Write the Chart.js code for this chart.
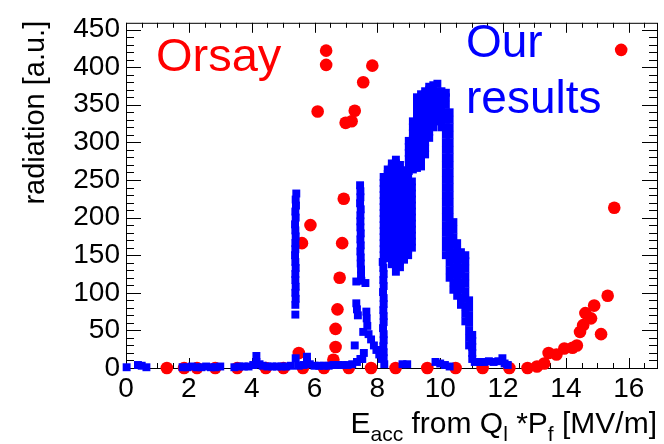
<!DOCTYPE html>
<html lang="en">
<head>
<meta charset="UTF-8">
<title>radiation vs Eacc</title>
<script src="https://cdn.jsdelivr.net/npm/chart.js"></script>
<style>
  body { margin: 0; background: #fff; }
</style>
</head>
<body>
<canvas id="myChart" width="664" height="444"></canvas>
<script>
// axis ranges and tick labels
const xMin = 0, xMax = 16.9, xStep = 2;
const yMin = 0, yMax = 459, yStep = 50;

// Orsay points [E_acc, radiation]
const orsay = [
  [1.30, 0], [1.85, 0], [2.26, 0], [2.84, 0], [3.54, 0], [4.45, 0], [5.01, 0],
  [5.50, 20], [5.63, 0], [5.60, 166], [5.87, 190], [6.10, 341], [6.30, 0],
  [6.37, 422], [6.37, 403], [6.60, 11], [6.67, 28], [6.67, 52], [6.73, 78],
  [6.80, 120], [6.88, 166], [6.93, 225], [6.99, 326], [7.18, 328], [7.09, 0],
  [7.28, 342], [7.55, 380], [7.80, 0], [7.84, 402], [8.58, 0], [9.59, 0],
  [10.49, 0], [11.35, 0], [12.20, 0], [12.78, 0], [13.08, 2], [13.31, 6],
  [13.45, 20], [13.70, 18], [13.95, 26], [14.21, 27], [14.35, 30], [14.45, 48],
  [14.55, 57], [14.62, 73], [14.80, 66], [14.90, 83], [15.12, 45], [15.33, 96],
  [15.54, 213], [15.76, 423]
];

// Our results: near-zero baseline
const ourBaseline = [
  [0.02, 1], [0.38, 4], [0.50, 3], [0.65, 1],
  [1.80, 1], [1.95, 1], [2.10, 2], [2.25, 1], [2.40, 1], [2.55, 2], [2.70, 1], [2.85, 1], [3.00, 2],
  [3.45, 1], [3.60, 2], [3.75, 2], [3.90, 2], [4.05, 4], [4.15, 8], [4.15, 16], [4.25, 5],
  [4.35, 3], [4.50, 2], [4.65, 2], [4.80, 2], [4.95, 2], [5.10, 2], [5.25, 3], [5.40, 13],
  [5.50, 3], [5.65, 4], [5.76, 8], [5.76, 15], [5.85, 5], [6.00, 3], [6.15, 3], [6.30, 3],
  [6.45, 3], [6.60, 4], [6.75, 4], [6.90, 4], [7.05, 4], [7.20, 5], [7.35, 8], [7.46, 12],
  [8.80, 5], [8.95, 5], [9.85, 8], [10.00, 6], [10.15, 4], [10.30, 2],
  [11.10, 8], [11.25, 8], [11.40, 8], [11.55, 9], [11.70, 8], [11.85, 9], [11.98, 13],
  [12.05, 6], [12.15, 4]
];

// Our results: narrow spike near 5.4 MV/m
const ourSpike54 = [
  [5.39, 71], [5.39, 84], [5.40, 92], [5.39, 100], [5.40, 108], [5.39, 117], [5.39, 125],
  [5.40, 133], [5.39, 141], [5.38, 150], [5.39, 158], [5.39, 166], [5.40, 175], [5.39, 183],
  [5.38, 191], [5.40, 200], [5.39, 208], [5.41, 216], [5.40, 224], [5.42, 232]
];

// Our results: spike near 7.5 MV/m and the cluster under it
const ourSpike75 = [
  [7.45, 243], [7.46, 235], [7.46, 227], [7.45, 219], [7.47, 211], [7.46, 203], [7.46, 195],
  [7.46, 187], [7.47, 179], [7.46, 171], [7.47, 163], [7.46, 155], [7.47, 147], [7.47, 139],
  [7.48, 131], [7.48, 123], [7.49, 116], [7.33, 115], [7.62, 113],
  [7.33, 86], [7.35, 78], [7.38, 70], [7.65, 75], [7.66, 66], [7.68, 56], [7.55, 48],
  [7.28, 30], [7.72, 45], [7.80, 38], [7.89, 30], [7.97, 24], [8.06, 18], [8.14, 12],
  [7.57, 20], [7.52, 12]
];

// Our results: column at 8.2 MV/m under the main bump
const ourColumn82 = [
  [8.22, 5], [8.20, 13], [8.20, 21], [8.19, 29], [8.20, 37], [8.20, 45], [8.18, 53],
  [8.20, 61], [8.20, 69], [8.19, 77], [8.20, 85], [8.20, 93], [8.18, 101], [8.20, 109],
  [8.19, 117], [8.20, 125], [8.19, 133], [8.17, 141]
];

// Our results: lower lobe of the main bump (x, list of y)
const lowLobeX = [8.20, 8.33, 8.46, 8.59, 8.72, 8.85, 8.98, 9.10];
const lowLobeY = [
  [150, 158, 166, 174, 182, 190, 198, 206, 214, 222, 230, 238, 246, 254],
  [146, 154, 162, 170, 178, 186, 194, 202, 210, 218, 226, 234, 242, 250, 258, 264],
  [138, 146, 154, 162, 170, 178, 186, 194, 202, 210, 218, 226, 234, 242, 250, 258, 266, 272],
  [128, 136, 144, 152, 160, 168, 176, 184, 192, 200, 208, 216, 224, 232, 240, 248, 256, 264, 272, 277],
  [134, 142, 150, 158, 166, 174, 182, 190, 198, 206, 214, 222, 230, 238, 246, 254, 262, 270],
  [144, 152, 160, 168, 176, 184, 192, 200, 208, 216, 224, 232, 240, 248, 256, 263],
  [150, 158, 166, 174, 182, 190, 198, 206, 214, 222, 230, 238, 246, 254],
  [160, 168, 176, 184, 192, 200, 208, 216, 224, 232, 240, 248]
];

// Our results: upper lobe of the main bump
const highLobeX = [9.00, 9.13, 9.26, 9.39, 9.52, 9.65, 9.78, 9.91, 10.04];
const highLobeY = [
  [262, 270, 278, 286, 294, 302],
  [264, 272, 280, 288, 296, 304, 312, 320, 328],
  [266, 274, 282, 290, 298, 306, 314, 322, 330, 338, 346, 354, 360],
  [268, 276, 284, 292, 300, 308, 316, 324, 332, 340, 348, 356, 364],
  [284, 292, 300, 308, 316, 324, 332, 340, 348, 356, 364, 368],
  [306, 314, 322, 330, 338, 346, 354, 362, 370, 374],
  [320, 328, 336, 344, 352, 360, 368, 376],
  [328, 336, 344, 352, 360, 368, 378],
  [320, 328, 336, 344, 352, 360, 368]
];

// Our results: falling edge 10.2 - 11 MV/m
const fallX = [10.18, 10.30, 10.42, 10.54, 10.66, 10.80, 10.92, 11.02];
const fallY = [
  [150, 160, 170, 180, 190, 200, 210, 220, 230, 240, 250, 260, 270, 280, 290, 300, 310, 320, 330, 340, 350, 360, 366],
  [120, 130, 140, 150, 160, 170, 180, 190, 200, 210, 220, 230, 240, 250, 260, 270, 280, 290, 300, 310, 320, 330, 340],
  [104, 114, 124, 134, 144, 154, 164, 174, 184, 194],
  [96, 106, 116, 126, 136, 146, 156, 166],
  [84, 94, 104, 114, 124, 134, 144, 154],
  [62, 72, 82, 92, 102, 112, 122, 132, 142, 150],
  [30, 40, 50, 60, 70, 80, 90],
  [12, 20, 28, 36, 44]
];

const FONT = "'Liberation Sans', Arial, Helvetica, sans-serif";

function pairs(list) {
  return list.map(p => ({ x: p[0], y: p[1] }));
}
function columns(xs, ys) {
  const out = [];
  xs.forEach((x, i) => ys[i].forEach(y => out.push({ x: x, y: y })));
  return out;
}

const ourPoints = [].concat(
  pairs(ourBaseline), pairs(ourSpike54), pairs(ourSpike75), pairs(ourColumn82),
  columns(lowLobeX, lowLobeY), columns(highLobeX, highLobeY), columns(fallX, fallY)
);

// ROOT style frame, inner ticks and texts
const framePlugin = {
  id: 'frame',
  beforeDatasetsDraw(chart) {
    const { ctx, chartArea: a, scales } = chart;
    ctx.save();
    ctx.strokeStyle = '#000';
    ctx.lineWidth = 1;
    ctx.strokeRect(a.left + 0.5, a.top + 0.5, a.right - a.left, a.bottom - a.top);
    ctx.beginPath();
    for (let i = 0; i * 0.5 <= xMax; i++) {
      const px = Math.round(scales.x.getPixelForValue(i * 0.5)) + 0.5;
      const len = i % 4 === 0 ? 10 : 5;
      ctx.moveTo(px, a.bottom); ctx.lineTo(px, a.bottom - len);
      ctx.moveTo(px, a.top); ctx.lineTo(px, a.top + len);
    }
    for (let i = 0; i * 10 <= yMax; i++) {
      const py = Math.round(scales.y.getPixelForValue(i * 10)) + 0.5;
      const len = i % 5 === 0 ? 15 : 8;
      ctx.moveTo(a.left, py); ctx.lineTo(a.left + len, py);
      ctx.moveTo(a.right, py); ctx.lineTo(a.right - len, py);
    }
    ctx.stroke();
    ctx.restore();
  },
  afterDraw(chart) {
    const { ctx, chartArea: a } = chart;
    ctx.save();
    ctx.fillStyle = '#000';
    ctx.textBaseline = 'alphabetic';

    // y title
    ctx.save();
    ctx.translate(44, a.top - 2);
    ctx.rotate(-Math.PI / 2);
    ctx.textAlign = 'right';
    ctx.font = '29px ' + FONT;
    ctx.fillText('radiation [a.u.]', 0, 0);
    ctx.restore();

    // x title with subscripts
    const parts = [['E', 0], ['acc', 1], [' from Q', 0], ['l', 1], [' *P', 0], ['f', 1], [' [MV/m]', 0]];
    const main = '30px ' + FONT, sub = '21px ' + FONT;
    let total = 0;
    parts.forEach(p => { ctx.font = p[1] ? sub : main; total += ctx.measureText(p[0]).width; });
    let x = a.right - total;
    const base = 433;
    ctx.textAlign = 'left';
    parts.forEach(p => {
      ctx.font = p[1] ? sub : main;
      ctx.fillText(p[0], x, p[1] ? base + 8 : base);
      x += ctx.measureText(p[0]).width;
    });

    // series names
    ctx.font = '47px ' + FONT;
    ctx.fillStyle = '#ff0000';
    ctx.fillText('Orsay', 156, 71);
    ctx.fillStyle = '#0000ff';
    ctx.font = '46px ' + FONT;
    ctx.fillText('Our', 466, 57);
    ctx.fillText('results', 466, 113);
    ctx.restore();
  }
};

const ctx = document.getElementById('myChart').getContext('2d');
const myChart = new Chart(ctx, {
  type: 'scatter',
  data: {
    datasets: [
      {
        label: 'Our results',
        data: ourPoints,
        pointStyle: 'rect',
        pointRadius: 5.6,
        backgroundColor: '#0000ff',
        borderWidth: 0,
        clip: false
      },
      {
        label: 'Orsay',
        data: pairs(orsay),
        pointStyle: 'circle',
        pointRadius: 6.3,
        backgroundColor: '#ff0000',
        borderWidth: 0,
        clip: false
      }
    ]
  },
  options: {
    responsive: false,
    animation: false,
    events: [],
    layout: { padding: { left: 0, right: 7, top: 8, bottom: 0 } },
    plugins: { legend: { display: false }, tooltip: { enabled: false } },
    scales: {
      x: {
        type: 'linear',
        min: xMin,
        max: xMax,
        afterFit: s => { s.height = 76; },
        grid: { display: false, drawTicks: false },
        border: { display: false },
        ticks: {
          stepSize: xStep,
          includeBounds: false,
          maxRotation: 0,
          autoSkip: false,
          padding: 4,
          color: '#000',
          font: { family: FONT, size: 28 }
        }
      },
      y: {
        type: 'linear',
        min: yMin,
        max: yMax,
        afterFit: s => { s.width = 126; },
        grid: { display: false, drawTicks: false },
        border: { display: false },
        ticks: {
          stepSize: yStep,
          includeBounds: false,
          autoSkip: false,
          padding: 6,
          color: '#000',
          font: { family: FONT, size: 28 }
        }
      }
    }
  },
  plugins: [framePlugin]
});
</script>
</body>
</html>
